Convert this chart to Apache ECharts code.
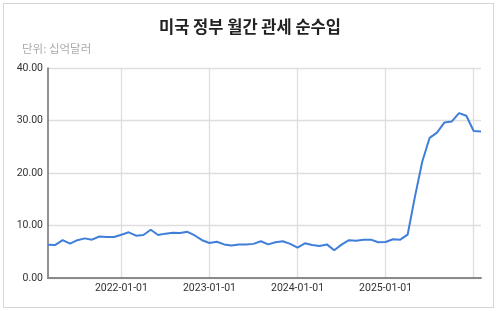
<!DOCTYPE html>
<html>
<head>
<meta charset="utf-8">
<script src="https://cdn.jsdelivr.net/npm/echarts@6/dist/echarts.min.js"></script>
<style>
html,body{margin:0;padding:0;background:#fff;}
#wrap{position:absolute;left:0;top:0;width:500px;height:311px;overflow:hidden;}
#card{position:absolute;left:3px;top:3px;width:489px;height:303px;border:1px solid #d6d6d6;background:#fff;}
#chart{position:absolute;left:0;top:0;width:500px;height:311px;}
</style>
</head>
<body>
<div id="wrap"><div id="card"></div><div id="chart"></div></div>
<script>
const titleText = '미국 정부 월간 관세 순수입';
const unitText = '단위: 십억달러';
const months = [
 '2021-03-01','2021-04-01','2021-05-01','2021-06-01','2021-07-01','2021-08-01','2021-09-01','2021-10-01','2021-11-01','2021-12-01',
 '2022-01-01','2022-02-01','2022-03-01','2022-04-01','2022-05-01','2022-06-01','2022-07-01','2022-08-01','2022-09-01','2022-10-01','2022-11-01','2022-12-01',
 '2023-01-01','2023-02-01','2023-03-01','2023-04-01','2023-05-01','2023-06-01','2023-07-01','2023-08-01','2023-09-01','2023-10-01','2023-11-01','2023-12-01',
 '2024-01-01','2024-02-01','2024-03-01','2024-04-01','2024-05-01','2024-06-01','2024-07-01','2024-08-01','2024-09-01','2024-10-01','2024-11-01','2024-12-01',
 '2025-01-01','2025-02-01','2025-03-01','2025-04-01','2025-05-01','2025-06-01','2025-07-01','2025-08-01','2025-09-01','2025-10-01','2025-11-01','2025-12-01',
 '2026-01-01','2026-02-01'
];
const revenue = [
 6.35,6.3,7.2,6.55,7.2,7.55,7.3,7.9,7.8,7.8,
 8.25,8.7,8.06,8.2,9.2,8.2,8.45,8.6,8.57,8.8,8.1,7.2,
 6.67,6.9,6.4,6.2,6.4,6.4,6.5,7.0,6.4,6.8,7.0,6.5,
 5.8,6.6,6.3,6.1,6.4,5.27,6.35,7.2,7.1,7.3,7.3,6.8,
 6.86,7.37,7.3,8.25,15.5,22.2,26.7,27.7,29.6,29.8,31.4,30.9,
 28.0,27.9
];
const yTicks = [0,10,20,30,40];
const labeledYears = ['2022-01-01','2023-01-01','2024-01-01','2025-01-01'];

const chart = echarts.init(document.getElementById('chart'), null, {renderer:'canvas'});
chart.setOption({
  animation:false,
  backgroundColor:'transparent',
  textStyle:{fontFamily:'Roboto, "Noto Sans CJK KR", sans-serif'},
  title:[
    {text:titleText,left:'center',top:13,textStyle:{fontSize:16.5,fontWeight:'bold',color:'#222',fontFamily:'"Noto Sans CJK KR", sans-serif'}},
    {text:unitText,left:17,top:38,textStyle:{fontSize:11.5,fontWeight:'normal',color:'#aaa',fontFamily:'"Noto Sans CJK KR", sans-serif'}}
  ],
  grid:{left:48,right:19,top:68,bottom:33,containLabel:false},
  xAxis:{
    type:'category',
    data:months,
    boundaryGap:false,
    axisLine:{show:true,lineStyle:{color:'#8a8a8a',width:2}},
    axisTick:{show:false},
    axisLabel:{
      interval:function(i,v){return labeledYears.indexOf(v)>=0;},
      color:'#333',fontSize:10.5,margin:5,fontFamily:'Roboto, sans-serif',
      formatter:function(v){return v;}
    },
    splitLine:{show:true,interval:function(i,v){return v.slice(5)==='01-01';},lineStyle:{color:'#dedede',width:1.3}}
  },
  yAxis:{
    type:'value',min:yTicks[0],max:yTicks[yTicks.length-1],interval:10,
    axisLine:{show:true,lineStyle:{color:'#6e6e6e',width:1.5}},
    axisTick:{show:false},
    axisLabel:{color:'#333',fontSize:10.5,margin:5,fontFamily:'Roboto, sans-serif',formatter:function(v){return v.toFixed(2);}},
    splitLine:{show:true,lineStyle:{color:'#dedede',width:1.3}}
  },
  series:[{
    type:'line',data:revenue,showSymbol:false,symbol:'none',
    lineStyle:{color:'#3f7fd9',width:2},
    itemStyle:{color:'#3f7fd9'}
  }]
});
</script>
</body>
</html>
